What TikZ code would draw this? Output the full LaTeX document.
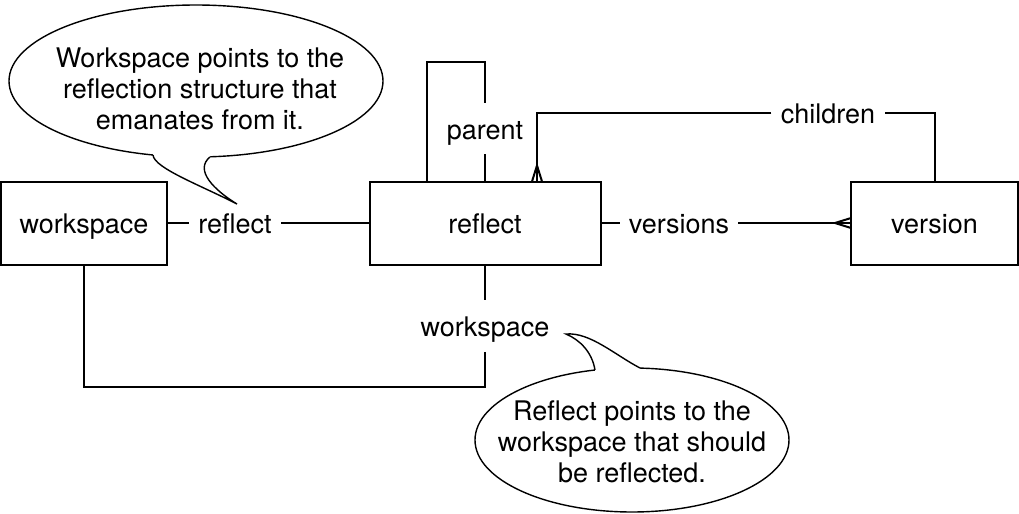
\documentclass[tikz,border=0pt]{standalone}
\usepackage{fontspec}
\setmainfont{TeX Gyre Heros}
\usepackage{tikz}
\usetikzlibrary{positioning}

\begin{document}
\begin{tikzpicture}[x=0.5pt, y=-0.5pt,
  every node/.style={font=\fontsize{13.5pt}{15.5pt}\selectfont},
  entity/.style={draw, rectangle, line width=1pt, minimum height=41.5pt, inner sep=0pt, outer sep=0pt,
    text height=11.5pt, text depth=1pt},
  role/.style={inner xsep=4.5pt, inner ysep=6.5pt, text height=11.5pt, text depth=1pt},
  rel/.style={line width=1pt},
  bubble/.style={line width=0.7pt},
  note/.style={align=center, inner sep=0pt}]
\useasboundingbox (0,0) rectangle (1019,514);

\node (workspace) [entity, minimum width=83pt] at (84,223) {workspace};
\node (reflect) [entity, minimum width=115.5pt, right=101.25pt of workspace] {reflect};
\node (version) [entity, minimum width=83.5pt, right=125.25pt of reflect] {version};

\node (lblreflect) [role] at (235,223) {reflect};
\node (lblparent) [role] at (485,128.5) {parent};
\node (lblchildren) [role] at (828,113) {children};
\node (lblversions) [role] at (679,223) {versions};
\node (lblworkspace) [role] at (485,326) {workspace};

% workspace -- reflect
\draw[rel] (workspace) -- (lblreflect);
\draw[rel] (lblreflect) -- (reflect);

% parent loop
\draw[rel] ([xshift=-29pt]reflect.north) |- (lblparent.north |- 0,62) -- (lblparent);
\draw[rel] (lblparent) -- (reflect.north);

% children
\draw[rel] (version.north) |- (lblchildren);
\draw[rel] (lblchildren) -| ([xshift=26pt]reflect.north);
\draw[rel] ([xshift=26pt, yshift=8pt]reflect.north) -- ([xshift=23.5pt]reflect.north)
           ([xshift=26pt, yshift=8pt]reflect.north) -- ([xshift=28.5pt]reflect.north);

% versions
\draw[rel] (reflect) -- (lblversions);
\draw[rel] (lblversions) -- (version);
\draw[rel] ([xshift=-8pt]version.west) -- ([yshift=2.5pt]version.west)
           ([xshift=-8pt]version.west) -- ([yshift=-2.5pt]version.west);

% workspace of reflect
\draw[rel] (reflect.south) -- (lblworkspace);
\draw[rel] (lblworkspace) -- (lblworkspace |- 0,387) -| (workspace.south);

% callouts
\draw[bubble] (196,81) ellipse [x radius=93.5pt, y radius=38pt];
\fill[white] (153,155) .. controls (154,168) and (200,185) .. (237,204)
  .. controls (214,190) and (194,170) .. (210,157) -- (210,145) -- (153,145) -- cycle;
\draw[bubble] (153,155) .. controls (154,168) and (200,185) .. (237,204)
  .. controls (214,190) and (194,170) .. (210,157);
\node (note1) [note] at (200,88.5) {Workspace points to the\\reflection structure that\\emanates from it.};

\draw[bubble] (632,440) ellipse [x radius=78.5pt, y radius=36pt];
\fill[white] (595,370) .. controls (592,352) and (580,340) .. (566,334)
  .. controls (590,332) and (615,355) .. (640,368) -- (640,380) -- (595,380) -- cycle;
\draw[bubble] (595,370) .. controls (592,352) and (580,340) .. (566,334)
  .. controls (590,332) and (615,355) .. (640,368);
\node (note2) [note] at (632,442) {Reflect points to the\\workspace that should\\be reflected.};
\end{tikzpicture}
\end{document}
